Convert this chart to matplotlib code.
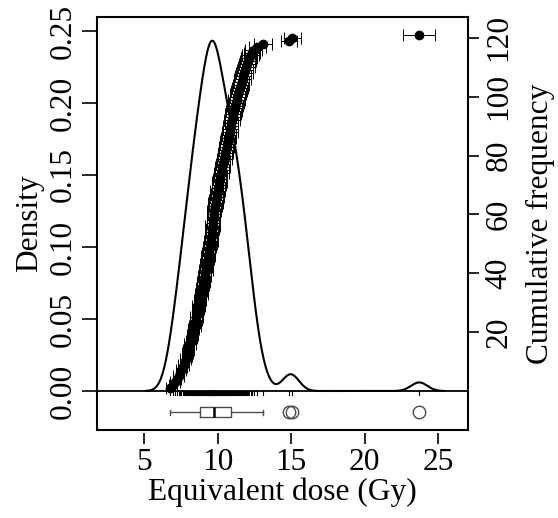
import numpy as np
import matplotlib
matplotlib.use("Agg")
import matplotlib.pyplot as plt

# ---- data (equivalent doses, Gy, and their standard errors) ----
de_values = [
    6.80, 6.98, 7.12, 7.24, 7.35, 7.45, 7.54, 7.62, 7.70, 7.77,
    7.84, 7.90, 7.96, 8.02, 8.08, 8.14, 8.19, 8.24, 8.29, 8.34,
    8.39, 8.44, 8.48, 8.52, 8.56, 8.60, 8.64, 8.68, 8.72, 8.76,
    8.80, 8.84, 8.88, 8.92, 8.96, 9.00, 9.04, 9.08, 9.12, 9.16,
    9.20, 9.23, 9.27, 9.30, 9.33, 9.36, 9.40, 9.43, 9.47, 9.50,
    9.53, 9.56, 9.59, 9.62, 9.65, 9.67, 9.70, 9.72, 9.74, 9.76,
    9.78, 9.81, 9.84, 9.87, 9.90, 9.94, 9.97, 10.01, 10.05, 10.08,
    10.12, 10.16, 10.20, 10.25, 10.29, 10.33, 10.37, 10.41, 10.46, 10.50,
    10.54, 10.58, 10.62, 10.66, 10.70, 10.74, 10.79, 10.83, 10.88, 10.91,
    10.95, 10.99, 11.03, 11.08, 11.12, 11.17, 11.21, 11.26, 11.30, 11.35,
    11.41, 11.46, 11.52, 11.58, 11.64, 11.70, 11.76, 11.82, 11.88, 11.95,
    12.02, 12.08, 12.15, 12.25, 12.35, 12.45, 12.70, 13.08, 14.85, 15.10,
    23.72,
]
de_errors = [
    0.31, 0.28, 0.33, 0.30, 0.35, 0.29, 0.34, 0.32, 0.36, 0.30,
    0.38, 0.33, 0.35, 0.37, 0.31, 0.39, 0.36, 0.34, 0.40, 0.35,
    0.38, 0.41, 0.33, 0.39, 0.42, 0.36, 0.40, 0.37, 0.43, 0.38,
    0.41, 0.36, 0.44, 0.39, 0.42, 0.40, 0.45, 0.37, 0.43, 0.41,
    0.46, 0.39, 0.44, 0.42, 0.40, 0.47, 0.43, 0.41, 0.45, 0.44,
    0.48, 0.42, 0.46, 0.40, 0.45, 0.49, 0.43, 0.47, 0.44, 0.42,
    0.48, 0.46, 0.44, 0.50, 0.45, 0.47, 0.43, 0.49, 0.46, 0.48,
    0.51, 0.45, 0.47, 0.50, 0.46, 0.52, 0.48, 0.45, 0.50, 0.47,
    0.53, 0.49, 0.51, 0.46, 0.52, 0.50, 0.48, 0.54, 0.49, 0.51,
    0.47, 0.53, 0.50, 0.55, 0.52, 0.49, 0.54, 0.51, 0.56, 0.50,
    0.53, 0.57, 0.52, 0.55, 0.51, 0.58, 0.54, 0.56, 0.53, 0.59,
    0.55, 0.57, 0.54, 0.58, 0.56, 0.59, 0.57, 0.60, 0.55, 0.56,
    1.08,
]
x_ticks = [5, 10, 15, 20, 25]
density_ticks = [0.00, 0.05, 0.10, 0.15, 0.20, 0.25]
cum_ticks = [20, 40, 60, 80, 100, 120]

plt.rcParams['font.family'] = ['Liberation Serif', 'DejaVu Serif']
plt.rcParams['font.size'] = 22.6

de = np.array(de_values)
err = np.array(de_errors)
order = np.argsort(de)
de_s = de[order]
err_s = err[order]
n = len(de)
rank = np.arange(1, n + 1)

# KDE (gaussian, R's bw.nrd0)
sd = de.std(ddof=1)
iqr = np.subtract(*np.percentile(de, [75, 25]))
bw = 0.9 * min(sd, iqr / 1.34) * n ** (-0.2)
xg = np.linspace(de.min() - 3 * bw, de.max() + 3 * bw, 1024)
dens = np.exp(-0.5 * ((xg[:, None] - de[None, :]) / bw) ** 2).sum(axis=1) / (n * bw * np.sqrt(2 * np.pi))

fig = plt.figure(figsize=(5.58, 5.18), dpi=100)
ax = fig.add_axes([97 / 558, 1 - 430 / 518, (468 - 97) / 558, (430 - 17) / 518])

ax.plot(xg, dens, color='black', lw=1.5, zorder=3)
ax.axhline(0, color='black', lw=1.3, zorder=2)

# rug
for v in de:
    ax.plot([v, v], [0, -0.0028], color='black', lw=0.8, zorder=2)

# boxplot
ax.boxplot(de, vert=False, positions=[-0.0146], widths=0.007, whis=1.5,
           manage_ticks=False,
           boxprops=dict(color='0.3', lw=1.0),
           whiskerprops=dict(color='0.3', lw=1.0, linestyle='-'),
           capprops=dict(color='0.3', lw=1.0),
           medianprops=dict(color='black', lw=1.8),
           flierprops=dict(marker='o', markerfacecolor='none', markeredgecolor='0.3',
                           markersize=9, markeredgewidth=1.0))

ax.set_xlim(1.8, 27.04)
ax.set_ylim(-(430 - 391) / 1440, (391 - 17) / 1440)
ax.set_xticks(x_ticks)
ax.set_xticklabels([str(t) for t in x_ticks])
ax.set_yticks(density_ticks)
ax.set_yticklabels([f"{t:.2f}" for t in density_ticks], rotation=90, va='center')
ax.tick_params(axis='y', length=11, width=1.2, pad=3)
ax.tick_params(axis='x', length=8, width=1.2, pad=3)
ax.spines['bottom'].set_position(('outward', 2))
ax.spines['bottom'].set_color('none')
ax.plot([0, 1], [0, 0], transform=ax.transAxes, color='black', lw=1.5, clip_on=False, zorder=5)
for s in ['left', 'top', 'right']:
    ax.spines[s].set_linewidth(1.5)
ax.set_xlabel("Equivalent dose (Gy)", labelpad=0)
ax.set_ylabel("Density", labelpad=3)

# cumulative frequency
ax2 = ax.twinx()
ax2.errorbar(de_s, rank, xerr=err_s, fmt='o', color='black', ms=6,
             ecolor='black', elinewidth=0.7, capsize=4, capthick=0.7, zorder=4)
ax2.set_ylim(-(430 - 391) / 2.943, (391 - 17) / 2.943)
ax2.set_yticks(cum_ticks)
ax2.set_yticklabels([str(t) for t in cum_ticks], rotation=90, va='center')
ax2.tick_params(axis='y', length=8, width=1.2, pad=4)
for s in ax2.spines.values():
    s.set_visible(False)
ax2.set_ylabel("Cumulative frequency", labelpad=9)

fig.savefig("out.png", dpi=100)
